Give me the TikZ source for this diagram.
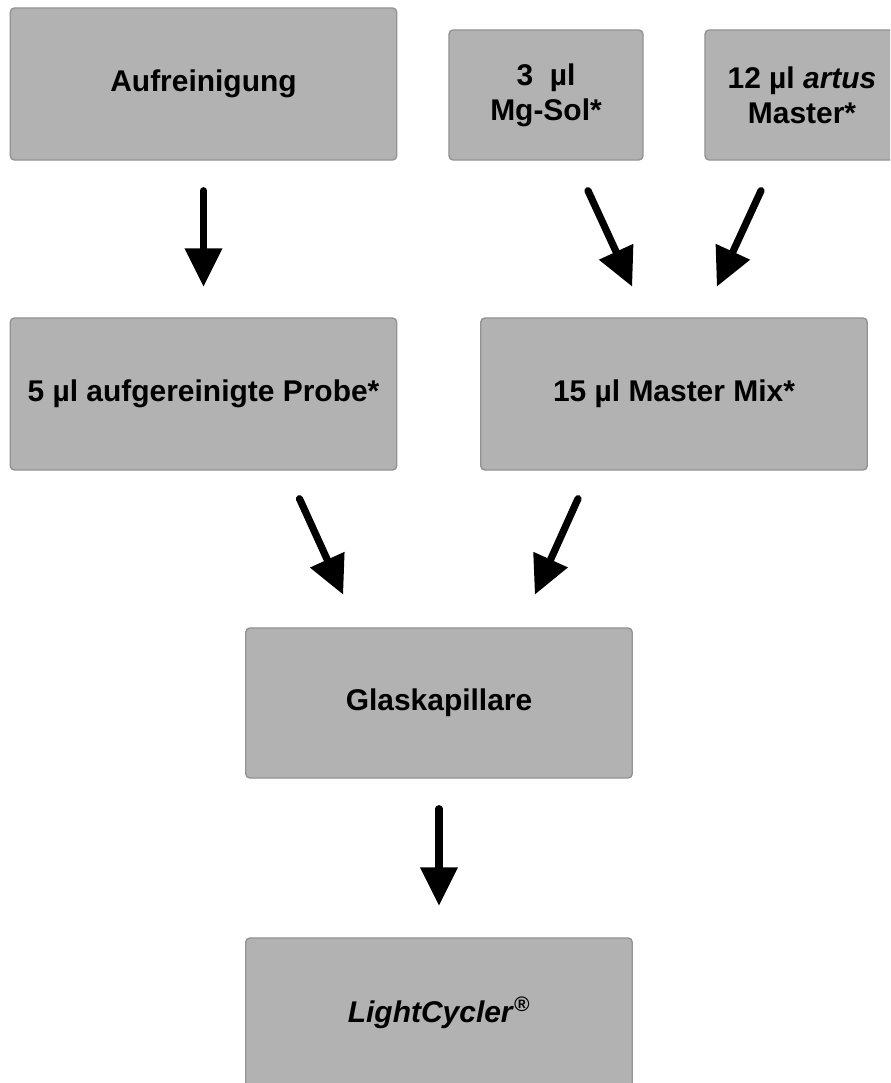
\documentclass[tikz,border=0pt]{standalone}
\usepackage{fontspec}
\setmainfont{Liberation Sans}
\usetikzlibrary{arrows.meta,positioning,calc}
\tikzset{
  blk/.style={draw=gray!85,fill=gray!60,line width=1pt,rounded corners=3pt,inner sep=0pt,align=center,
    font=\fontsize{21.3}{25}\selectfont\bfseries},
  wideblk/.style={blk,minimum width=9.66cm,minimum height=3.8cm},
  lowblk/.style={blk,minimum width=9.66cm,minimum height=3.75cm},
  smallblk/.style={blk,minimum width=4.85cm,minimum height=3.25cm},
  arr/.style={-{Triangle[length=0.95cm,width=0.95cm,line width=0pt]},line width=0.18cm,line cap=round}
}
\begin{document}
\begin{tikzpicture}[x=0.025cm,y=-0.025cm]
  \useasboundingbox (0,0) rectangle (890,1083);
  \clip (0,0) rectangle (890,1083);

  \node[wideblk] (auf) at (203.5,84) {Aufreinigung};
  \node[smallblk] (mg) at (546,95) {3~~µl\\Mg-Sol*};
  \node[smallblk] (mst) at (802,95) {12 µl \textit{artus}\\Master*};
  \node[wideblk] (probe) at (203.5,394) {5 µl aufgereinigte Probe*};
  \node[wideblk] (mix) at (674,394) {15 µl Master Mix*};
  \node[lowblk] (glas) at (439,703) {Glaskapillare};
  \node[lowblk] (lc) at (439,1013) {\textit{LightCycler}\textsuperscript{\textit{®}}};

  \draw[arr] ($(auf.south)+(0,30)$) -- ($(probe.north)+(0,-31)$);
  \draw[arr] ($(mg.south)+(42,30)$) -- ($(mix.north)+(-42,-31)$);
  \draw[arr] ($(mst.south)+(-41,30)$) -- ($(mix.north)+(43,-31)$);
  \draw[arr] ($(probe.south)+(96,28)$) -- ($(glas.north)+(-96,-33)$);
  \draw[arr] ($(mix.south)+(-96,28)$) -- ($(glas.north)+(96,-33)$);
  \draw[arr] ($(glas.south)+(0,30)$) -- ($(lc.north)+(0,-32)$);
\end{tikzpicture}
\end{document}
